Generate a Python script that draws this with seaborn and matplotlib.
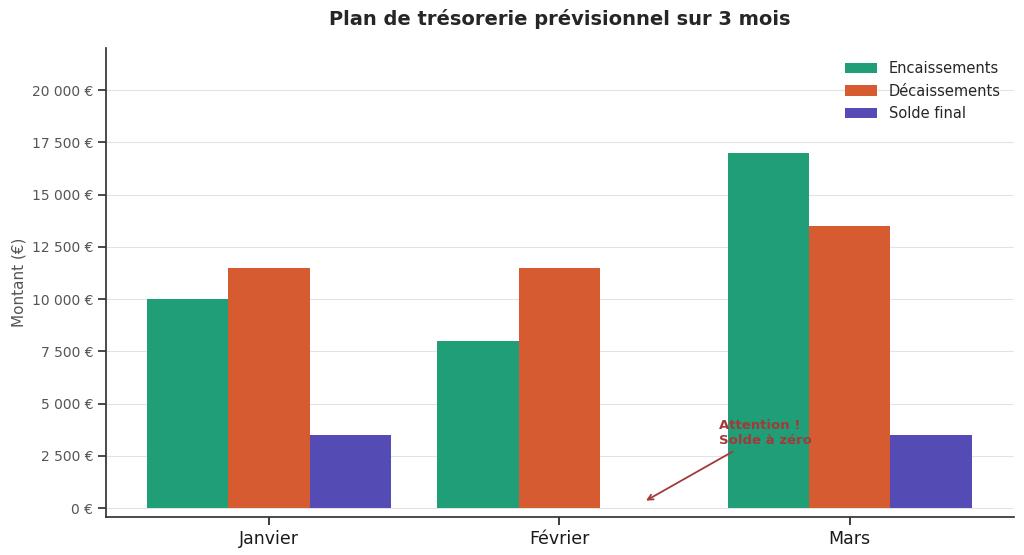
import pandas as pd
import seaborn as sns
import matplotlib.pyplot as plt
from matplotlib.ticker import FuncFormatter

mois = ["Janvier", "Février", "Mars"]
encaissements = [10000, 8000, 17000]
decaissements = [11500, 11500, 13500]
solde_final = [3500, 0, 3500]

series = ["Encaissements", "Décaissements", "Solde final"]
couleurs = ["#1f9e77", "#d65b30", "#544bb5"]

df = pd.DataFrame({
    "Mois": mois * 3,
    "Type": [series[0]] * 3 + [series[1]] * 3 + [series[2]] * 3,
    "Montant": encaissements + decaissements + solde_final,
})

sns.set_theme(style="ticks")
plt.rcParams['font.family'] = ['DejaVu Sans']

fig, ax = plt.subplots(figsize=(10.24, 5.55), dpi=100)
sns.barplot(data=df, x="Mois", y="Montant", hue="Type", order=mois,
            hue_order=series, palette=couleurs, width=0.84, ax=ax,
            saturation=1, edgecolor="none")

ax.set_xlim(-0.56, 2.565)
ax.set_ylim(-430, 22000)
ax.set_yticks(range(0, 22500, 2500))
ax.yaxis.set_major_formatter(FuncFormatter(lambda v, p: f"{int(v):,} €".replace(",", " ")))
ax.grid(axis="y", color="#e3e3e3", linewidth=0.8)
ax.set_axisbelow(True)
sns.despine(ax=ax)
for s in ["left", "bottom"]:
    ax.spines[s].set_color("#333333")

ax.tick_params(axis="y", labelsize=10, colors="#555555")
ax.tick_params(axis="y", color="#333333")
ax.tick_params(axis="x", labelsize=12.5, labelcolor="#1a1a1a")
ax.set_xlabel("")
ax.set_ylabel("Montant (€)", fontsize=11, color="#555555")
ax.set_title("Plan de trésorerie prévisionnel sur 3 mois", fontsize=14,
             fontweight="bold", color="#262626", pad=17)

ax.legend(frameon=False, loc="upper right", fontsize=10.5, title=None,
          handlelength=2.2)

ax.annotate("Attention !\nSolde à zéro", xy=(1.29, 300), xytext=(1.55, 3600),
            fontsize=9.5, fontweight="bold", color="#a33a3a",
            ha="left", va="center",
            arrowprops=dict(arrowstyle="->", color="#a33a3a", lw=1.3))

plt.subplots_adjust(left=0.104, right=0.99, top=0.913, bottom=0.068)
plt.savefig("out.png")
